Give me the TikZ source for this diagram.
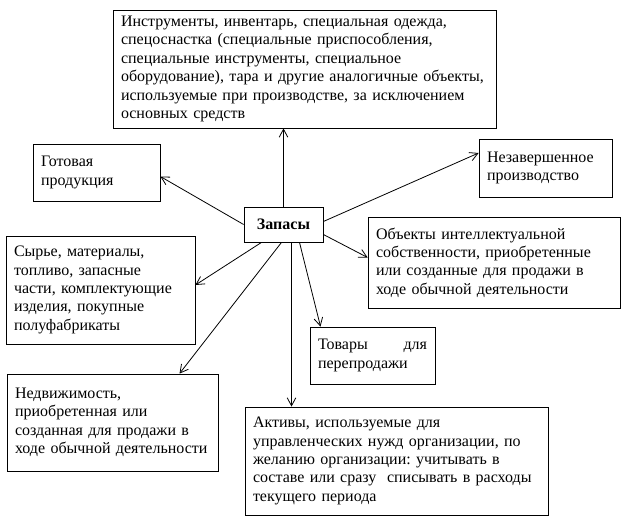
\documentclass[tikz,border=0pt]{standalone}
\usepackage{fontspec}
\setmainfont{Liberation Serif}
\usetikzlibrary{arrows.meta,calc}

\tikzset{
  box/.style={draw, line width=0.6pt, align=left, inner xsep=6pt,
    font=\fontsize{12pt}{13.8pt}\selectfont},
  arr/.style={line width=0.6pt, -{Straight Barb[length=6pt,width=6.5pt]}}
}

\frenchspacing
\begin{document}
\begin{tikzpicture}[x=0.75pt,y=-0.75pt]
    \useasboundingbox (0,0) rectangle (624,524);

    % Centre box
    \node (zap) at (283.5,224.5) [box, align=center, minimum width=59.25pt,
      minimum height=26.25pt] {\textbf{Запасы}};

    % Kinds of stock
    \node (instr) at (304.5,69) [box, minimum width=287.25pt, minimum height=88.5pt,
      text width=275.25pt] {Инструменты, инвентарь, специальная одежда,\\
      спецоснастка (специальные приспособления,\\
      специальные инструменты, специальное\\
      оборудование), тара и другие аналогичные объекты,\\
      используемые при производстве, за исключением\\
      основных средств};
    \node (got) at (96.5,172.5) [box, minimum width=95.25pt, minimum height=42.75pt,
      text width=83.25pt] {Готовая\\продукция};
    \node (nez) at (545.5,168) [box, minimum width=99.75pt, minimum height=43.5pt,
      text width=87.75pt] {Незавершенное\\производство};
    \node (obj) at (494,262.5) [box, minimum width=189pt, minimum height=68.25pt,
      text width=177pt] {Объекты интеллектуальной\\
      собственности, приобретенные\\
      или созданные для продажи в\\
      ходе обычной деятельности};
    \node (syr) at (100.5,290) [box, minimum width=141.75pt, minimum height=81pt,
      text width=129.75pt] {Сырье, материалы,\\
      топливо, запасные\\
      части, комплектующие\\
      изделия, покупные\\
      полуфабрикаты};
    \node (tov) at (372.5,355.5) [box, minimum width=93.75pt, minimum height=42.75pt,
      text width=81.75pt] {Товары\hfill для\\перепродажи};
    \node (ned) at (112.5,422.5) [box, minimum width=158.25pt, minimum height=72.75pt,
      text width=146.25pt] {Недвижимость,\\
      приобретенная или\\
      созданная для продажи в\\
      ходе обычной деятельности};
    \node (akt) at (396.5,461) [box, minimum width=227.25pt, minimum height=81pt,
      text width=215.25pt] {Активы, используемые для\\
      управленческих нужд организации, по\\
      желанию организации: учитывать в\\
      составе или сразу \ списывать в расходы\\
      текущего периода};

    % Arrows from the centre
    \draw[arr] (zap.north) -- (zap.north |- instr.south);
    \draw[arr] (zap.west) -- ($(got.east)+(0,4)$);
    \draw[arr] ($(zap.east)+(0,-3)$) -- ($(nez.west)+(0,-15)$);
    \draw[arr] ($(zap.east)+(0,10)$) -- ($(obj.west)+(0,-5)$);
    \draw[arr] ($(zap.south)+(-22,0)$) -- ($(syr.east)+(0,-5)$);
    \draw[arr] ($(zap.south)+(-2,0)$) -- ($(ned.north)+(67,0)$);
    \draw[arr] ($(zap.south)+(16,0)$) -- ($(tov.north)+(-52,0)$);
    \coordinate (drop) at ($(zap.south)+(8,0)$);
    \draw[arr] (drop) -- (drop |- akt.north);
\end{tikzpicture}
\end{document}
